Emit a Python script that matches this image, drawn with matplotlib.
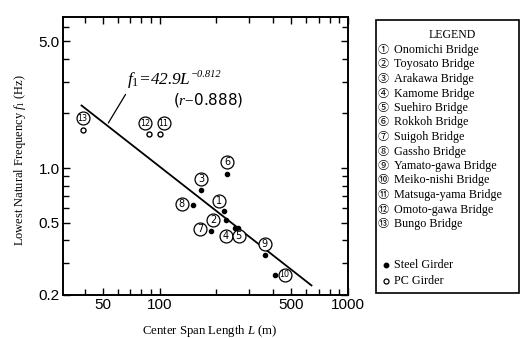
import numpy as np
import matplotlib
matplotlib.use("Agg")
import matplotlib.pyplot as plt
from matplotlib.transforms import offset_copy
from matplotlib.ticker import FixedLocator, NullFormatter, FixedFormatter
from matplotlib.patches import Rectangle

plt.rcParams['mathtext.fontset'] = 'custom'
plt.rcParams['mathtext.rm'] = 'Liberation Serif'
plt.rcParams['mathtext.it'] = 'Liberation Serif:italic'
plt.rcParams['mathtext.bf'] = 'Liberation Serif:bold'

# ---- data ----
bridge_ids = [1, 2, 3, 4, 5, 6, 7, 8, 9, 10, 11, 12, 13]
bridge_names = ["Onomichi Bridge", "Toyosato Bridge", "Arakawa Bridge", "Kamome Bridge",
                "Suehiro Bridge", "Rokkoh Bridge", "Suigoh Bridge", "Gassho Bridge",
                "Yamato-gawa Bridge", "Meiko-nishi Bridge", "Matsuga-yama Bridge",
                "Omoto-gawa Bridge", "Bungo Bridge"]
span_L = [220, 224, 166, 251, 261, 228, 187, 151, 362, 408, 100, 88, 39]
freq_f1 = [0.579, 0.521, 0.756, 0.468, 0.468, 0.927, 0.449, 0.630, 0.334, 0.259, 1.54, 1.54, 1.62]
girder_type = ["steel"] * 10 + ["pc"] * 3
fit_coef = 42.9
fit_exp = -0.812
fit_range = [38.5, 640]
x_major = [50, 100, 500, 1000]
x_major_labels = ["50", "100", "500", "1000"]
x_minor = [40, 60, 70, 80, 90, 200, 300, 400, 600, 700, 800, 900]
y_major = [0.2, 0.5, 1.0, 5.0]
y_major_labels = ["0.2", "0.5", "1.0", "5.0"]
y_minor = [0.3, 0.4, 0.6, 0.7, 0.8, 0.9, 2, 3, 4, 6]

# label offsets (pixels) of circled numbers from their points
label_offsets = [(-5, 10.3), (-12.4, 0), (0, 10.7), (-9, -8.3), (0.7, -8.3), (0, 11.7),
                 (-10.7, 2), (-11.6, 1), (0, 11), (10, 0), (4, 11), (-4, 11), (0, 12)]

fig = plt.figure(figsize=(5.21, 3.38), dpi=100)
W, H = 521, 338
ax = fig.add_axes([63 / W, 1 - 295 / H, (348 - 63) / W, (295 - 17) / H])
ax.set_xscale('log')
ax.set_yscale('log')
ax.set_xlim(30.7, 1000)
ax.set_ylim(0.2, 6.8)

# regression line
Lfit = np.geomspace(fit_range[0], fit_range[1], 50)
ax.plot(Lfit, fit_coef * Lfit ** fit_exp, color='black', lw=1.3, zorder=2)

# points
for L, f, t in zip(span_L, freq_f1, girder_type):
    if t == "steel":
        ax.plot(L, f, 'o', ms=3.0, mfc='black', mec='black', zorder=3)
    else:
        ax.plot(L, f, 'o', ms=3.6, mfc='white', mec='black', mew=1.0, zorder=3)

# circled number labels
for n, L, f, (dx, dy) in zip(bridge_ids, span_L, freq_f1, label_offsets):
    tr = offset_copy(ax.transData, fig=fig, x=dx, y=dy, units='dots')
    ax.plot(L, f, 'o', ms=9.3, mfc='white', mec='black', mew=0.9, transform=tr,
            zorder=4, clip_on=False)
    ax.text(L, f, str(n), transform=tr, ha='center', va='center',
            fontsize=7 if n < 10 else 5.8, family='DejaVu Sans', zorder=5)

# annotation
ax.annotate("", xy=(52.5, fit_coef * 52.5 ** fit_exp), xycoords='data',
            xytext=(127 / W, 1 - 92 / H), textcoords='figure fraction',
            arrowprops=dict(arrowstyle='-', color='black', lw=0.9))
t_main = fig.text(127 / W, 1 - 84 / H, r'$f_{1}$' + f'={fit_coef}L', fontsize=12.5,
                  ha='left', va='baseline', family='Liberation Serif', style='italic')
fig.canvas.draw()
bb = t_main.get_window_extent()
fig.text((bb.x1 + 1) / W, 1 - 77 / H, f'\u2212{abs(fit_exp):.3f}', fontsize=7.5,
         ha='left', va='baseline', family='Liberation Serif', style='italic')
fig.text(173 / W, 1 - 100 / H, r'($r$$-$0.888)', fontsize=11, ha='left', va='center',
         family='DejaVu Sans')

# ticks
ax.xaxis.set_major_locator(FixedLocator(x_major))
ax.xaxis.set_major_formatter(FixedFormatter(x_major_labels))
ax.xaxis.set_minor_locator(FixedLocator(x_minor))
ax.xaxis.set_minor_formatter(NullFormatter())
ax.yaxis.set_major_locator(FixedLocator(y_major))
ax.yaxis.set_major_formatter(FixedFormatter(y_major_labels))
ax.yaxis.set_minor_locator(FixedLocator(y_minor))
ax.yaxis.set_minor_formatter(NullFormatter())
ax.tick_params(which='both', direction='in', top=True, right=True, width=1.0, color='black')
ax.tick_params(which='major', length=5, labelsize=11, pad=2.5)
ax.tick_params(which='minor', length=4)
for lab in ax.get_xticklabels() + ax.get_yticklabels():
    lab.set_family('Liberation Sans')
for s in ax.spines.values():
    s.set_linewidth(1.4)

# axis labels
fig.text(210 / W, 1 - 331 / H, r'Center Span Length $L$ (m)', fontsize=9.2,
         family='Liberation Serif', ha='center', va='center')
fig.text(20 / W, 1 - 160 / H, r'Lowest Natural Frequency $f_1$ (Hz)', fontsize=9,
         family='Liberation Serif', ha='center', va='center', rotation=90)

# legend box
fig.patches.append(Rectangle((376 / W, 1 - 293 / H), (519 - 376) / W, (293 - 20) / H,
                             transform=fig.transFigure, fill=False, ec='black', lw=1.2))
fig.text(452 / W, 1 - 35 / H, "LEGEND", fontsize=8.5, family='Liberation Serif',
         ha='center', va='center')
circled = "①②③④⑤⑥⑦⑧⑨⑩⑪⑫⑬"
for i, (n, name) in enumerate(zip(bridge_ids, bridge_names)):
    y = 1 - (50 + i * 14.5) / H
    fig.text(383 / W, y, circled[n - 1], fontsize=8, family=['Noto Sans CJK JP', 'DejaVu Sans'],
             ha='center', va='center')
    fig.text(394 / W, y, name, fontsize=8.7, family='Liberation Serif', ha='left', va='center')
fig.lines.append(plt.Line2D([386 / W], [1 - 264.5 / H], marker='o', ms=3.2, mfc='black',
                            mec='black', transform=fig.transFigure))
fig.lines.append(plt.Line2D([386 / W], [1 - 281 / H], marker='o', ms=3.6, mfc='white',
                            mec='black', mew=0.9, transform=fig.transFigure))
fig.text(394 / W, 1 - 264.5 / H, "Steel Girder", fontsize=8.7, family='Liberation Serif',
         ha='left', va='center')
fig.text(394 / W, 1 - 281 / H, "PC Girder", fontsize=8.7, family='Liberation Serif',
         ha='left', va='center')

fig.savefig("out.png", dpi=100)
